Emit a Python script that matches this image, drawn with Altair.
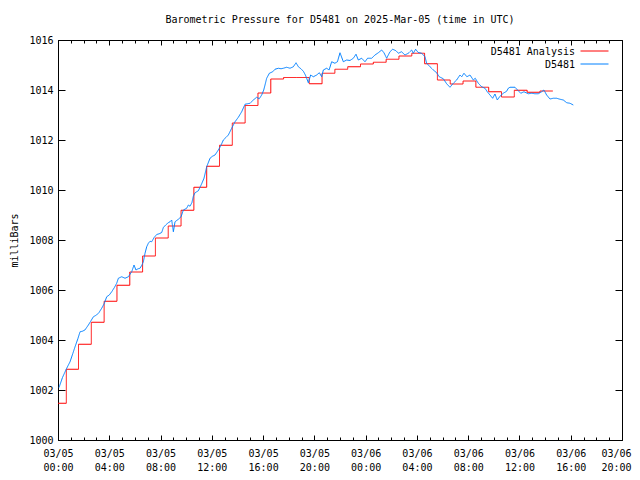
import altair as alt
import pandas as pd

# ---- data (hours since 2025-03-05 00:00 UTC) ----
red_hours = [0, 0.65, 1.6, 2.6, 3.6, 4.6, 5.6, 6.6, 7.6, 8.6, 9.6, 10.6, 11.6, 12.6, 13.6,
             14.6, 15.6, 16.6, 17.6, 18.6, 19.6, 20.6, 21.6, 22.6, 23.6, 24.6, 25.6, 26.6,
             27.6, 28.6, 29.6, 30.6, 31.6, 32.6, 33.6, 34.6, 35.6, 36.6, 37.6, 38.6]
red_values = [1001.47, 1002.83, 1003.83, 1004.71, 1005.55, 1006.19, 1006.72, 1007.36, 1008.08,
              1008.56, 1009.19, 1010.11, 1010.95, 1011.79, 1012.68, 1013.38, 1013.88, 1014.44,
              1014.50, 1014.50, 1014.25, 1014.67, 1014.83, 1014.93, 1015.04, 1015.11, 1015.23,
              1015.36, 1015.47, 1015.05, 1014.40, 1014.24, 1014.36, 1014.11, 1013.93, 1013.72,
              1013.99, 1013.91, 1013.96, 1013.96]

blue_hours = [0.08, 0.35, 0.68, 0.94, 1.15, 1.33, 1.55, 1.72, 1.9, 2.1, 2.37, 2.55, 2.76, 3.01,
              3.2, 3.41, 3.6, 3.8, 4.0, 4.19, 4.4, 4.58, 4.71, 4.97, 5.23, 5.49, 5.75, 5.93,
              6.08, 6.25, 6.4, 6.55, 6.66, 6.79, 6.92, 7.05, 7.18, 7.31, 7.5, 7.7, 7.9, 8.09,
              8.22, 8.4, 8.6, 8.74, 8.87, 9.0, 9.13, 9.39, 9.6, 9.78, 10.04, 10.17, 10.3, 10.45,
              10.56, 10.69, 10.82, 10.95, 11.21, 11.39, 11.52, 11.6, 11.86, 12.05, 12.25, 12.51,
              12.69, 12.9, 13.1, 13.29, 13.55, 13.81, 14.07, 14.33, 14.59, 14.8, 14.98, 15.24,
              15.5, 15.7, 15.89, 16.05, 16.15, 16.28, 16.49, 16.75, 16.93, 17.19, 17.4, 17.58,
              17.84, 18.1, 18.36, 18.57, 18.75, 18.95, 19.14, 19.3, 19.4, 19.53, 19.71, 19.92,
              20.18, 20.39, 20.57, 20.7, 20.96, 21.15, 21.35, 21.6, 21.8, 22.0, 22.26, 22.52,
              22.78, 23.04, 23.25, 23.43, 23.69, 23.95, 24.15, 24.47, 24.73, 24.99, 25.25, 25.43,
              25.64, 25.9, 26.11, 26.37, 26.55, 26.8, 27.07, 27.33, 27.59, 27.72, 27.9, 28.1,
              28.37, 28.63, 28.76, 29.02, 29.28, 29.54, 29.74, 30.06, 30.32, 30.58, 30.84, 31.1,
              31.36, 31.5, 31.67, 31.9, 32.14, 32.4, 32.55, 32.79, 33.05, 33.31, 33.49, 33.7,
              33.91, 34.09, 34.27, 34.48, 34.74, 35.0, 35.13, 35.26, 35.65, 35.91, 36.1, 36.35,
              36.69, 36.95, 37.2, 37.47, 37.73, 37.91, 38.12, 38.38, 38.64, 38.9, 39.16, 39.42,
              39.69, 39.94, 40.2]
blue_values = [1002.10, 1002.50, 1002.87, 1003.13, 1003.45, 1003.73, 1004.05, 1004.33, 1004.35,
               1004.40, 1004.60, 1004.75, 1004.93, 1005.00, 1005.10, 1005.27, 1005.45, 1005.73,
               1005.80, 1005.93, 1006.10, 1006.27, 1006.47, 1006.53, 1006.47, 1006.53, 1006.73,
               1007.00, 1006.80, 1006.85, 1006.87, 1007.00, 1007.13, 1007.47, 1007.73, 1007.87,
               1007.95, 1007.93, 1008.10, 1008.22, 1008.25, 1008.30, 1008.50, 1008.60, 1008.69,
               1008.73, 1008.80, 1008.33, 1008.73, 1008.83, 1008.93, 1009.20, 1009.27, 1009.40,
               1009.35, 1009.50, 1009.75, 1009.89, 1009.93, 1009.97, 1010.25, 1010.47, 1010.75,
               1010.93, 1011.27, 1011.35, 1011.40, 1011.60, 1011.76, 1012.00, 1012.10, 1012.20,
               1012.47, 1012.73, 1012.91, 1013.13, 1013.43, 1013.45, 1013.47, 1013.60, 1013.71,
               1013.65, 1013.80, 1014.00, 1014.20, 1014.47, 1014.67, 1014.73, 1014.83, 1014.87,
               1014.85, 1014.87, 1014.91, 1014.87, 1014.93, 1015.09, 1014.93, 1014.85, 1014.75,
               1014.60, 1014.47, 1014.29, 1014.60, 1014.53, 1014.60, 1014.69, 1014.53, 1014.80,
               1014.87, 1014.80, 1015.13, 1015.07, 1015.13, 1015.49, 1015.13, 1015.20, 1015.18,
               1015.27, 1015.43, 1015.20, 1015.27, 1015.13, 1015.27, 1015.27, 1015.40, 1015.49,
               1015.60, 1015.49, 1015.27, 1015.53, 1015.63, 1015.57, 1015.47, 1015.53, 1015.40,
               1015.47, 1015.60, 1015.47, 1015.63, 1015.50, 1015.47, 1015.33, 1015.07, 1014.93,
               1014.80, 1014.69, 1014.53, 1014.45, 1014.25, 1014.11, 1014.27, 1014.40, 1014.60,
               1014.53, 1014.67, 1014.53, 1014.60, 1014.40, 1014.47, 1014.27, 1014.13, 1014.07,
               1013.93, 1013.80, 1013.67, 1013.84, 1013.60, 1013.75, 1013.87, 1013.95, 1014.07,
               1014.11, 1014.11, 1013.97, 1013.87, 1013.93, 1013.85, 1013.87, 1013.85, 1013.85,
               1013.93, 1014.00, 1013.80, 1013.64, 1013.67, 1013.67, 1013.63, 1013.60, 1013.49,
               1013.47, 1013.40]

series_names = ["D5481 Analysis", "D5481"]
series_colors = ["#ff0000", "#0080ff"]

x_tick_hours = [0, 4, 8, 12, 16, 20, 24, 28, 32, 36, 40, 44]
x_tick_dates = ["03/05", "03/05", "03/05", "03/05", "03/05", "03/05",
                "03/06", "03/06", "03/06", "03/06", "03/06", "03/06"]
x_tick_times = ["00:00", "04:00", "08:00", "12:00", "16:00", "20:00",
                "00:00", "04:00", "08:00", "12:00", "16:00", "20:00"]
x_minor_hours = list(range(0, 45))
y_ticks = [1000, 1002, 1004, 1006, 1008, 1010, 1012, 1014, 1016]

title_text = "Barometric Pressure for D5481 on 2025-Mar-05 (time in UTC)"
y_title = "milliBars"

# ---- chart ----
W, H = 564, 400
FONT = "DejaVu Sans Mono"
X_MAJOR, X_MINOR, Y_MAJOR = 5, 3, 7

red_df = pd.DataFrame({"hour": red_hours, "mb": red_values, "series": series_names[0]})
blue_df = pd.DataFrame({"hour": blue_hours, "mb": blue_values, "series": series_names[1]})

xscale = alt.Scale(domain=[0, 44], nice=False, zero=False)
yscale = alt.Scale(domain=[1000, 1016], nice=False, zero=False)

date_arr = "[" + ",".join(f"'{d}'" for d in x_tick_dates) + "]"
time_arr = "[" + ",".join(f"'{t}'" for t in x_tick_times) + "]"
label_expr = f"[{date_arr}[round(datum.value/4)], {time_arr}[round(datum.value/4)]]"

LEG_Y = 5
# coloured line samples (labels hidden)
sym_legend = alt.Legend(
    title=None, orient="none", legendX=522, legendY=LEG_Y,
    symbolType="stroke", symbolSize=784, symbolStrokeWidth=1,
    labelExpr="''", labelFont=FONT, labelFontSize=10,
    padding=0, rowPadding=1, clipHeight=12,
)
# right-aligned labels placed to the left of the samples
lab_legend = alt.Legend(
    title=None, orient="none", legendX=487, legendY=LEG_Y + 1,
    symbolType="stroke", symbolSize=784, symbolOpacity=0,
    labelAlign="right", labelOffset=0, labelFont=FONT, labelFontSize=10,
    labelColor="black", padding=0, rowPadding=1, clipHeight=12,
)
color = alt.Color("series:N", scale=alt.Scale(domain=series_names, range=series_colors),
                  legend=sym_legend)
dash = alt.StrokeDash("series:N", sort=series_names,
                      scale=alt.Scale(range=[[1, 0], [1, 0]]), legend=lab_legend)


def tick_axis(orient, values, size, offset):
    return alt.Axis(orient=orient, values=values, labels=False, domain=False, ticks=True,
                    tickSize=size, tickColor="black", tickWidth=1, grid=False, title=None,
                    offset=offset)


x_label_axis = alt.Axis(orient="bottom", values=x_tick_hours, labelExpr=label_expr,
                        labelFont=FONT, labelFontSize=10, labelColor="black",
                        labelLineHeight=14, labelPadding=8, ticks=False, tickSize=0,
                        domain=False, grid=False, title=None, labelFlush=False,
                        labelOverlap=False,
                        labelOffset={"condition": {"test": "datum.value >= 44", "value": -6},
                                     "value": 0})
y_label_axis = alt.Axis(orient="left", values=y_ticks, format="d", labelFont=FONT,
                        labelFontSize=10, labelColor="black", labelPadding=5, ticks=False,
                        tickSize=0, domain=False, grid=False, title=y_title,
                        titleFont=FONT, titleFontSize=10, titleFontWeight="normal",
                        titleColor="black", titleX=-44, titleY=H / 2, titleAngle=270,
                        titleAlign="center", titleBaseline="middle")

red = alt.Chart(red_df).mark_line(interpolate="step-after", strokeWidth=1).encode(
    x=alt.X("hour:Q", scale=xscale, axis=x_label_axis),
    y=alt.Y("mb:Q", scale=yscale, axis=y_label_axis),
    color=color,
    strokeDash=dash,
)
blue = alt.Chart(blue_df).mark_line(strokeWidth=1).encode(
    x=alt.X("hour:Q", scale=xscale, axis=tick_axis("top", x_tick_hours, X_MAJOR, -H)),
    y=alt.Y("mb:Q", scale=yscale, axis=tick_axis("right", y_ticks, Y_MAJOR, -W)),
    color=color,
    strokeDash=dash,
)
ghost1 = alt.Chart(blue_df).mark_line(opacity=0).encode(
    x=alt.X("hour:Q", scale=xscale, axis=tick_axis("top", x_minor_hours, X_MINOR, -H)),
    y=alt.Y("mb:Q", scale=yscale, axis=tick_axis("left", y_ticks, Y_MAJOR, -W)),
)
ghost2 = alt.Chart(blue_df).mark_line(opacity=0).encode(
    x=alt.X("hour:Q", scale=xscale, axis=tick_axis("bottom", x_tick_hours, X_MAJOR, -H)),
    y=alt.Y("mb:Q", scale=yscale, axis=None),
)
ghost3 = alt.Chart(blue_df).mark_line(opacity=0).encode(
    x=alt.X("hour:Q", scale=xscale, axis=tick_axis("bottom", x_minor_hours, X_MINOR, -H)),
    y=alt.Y("mb:Q", scale=yscale, axis=None),
)

chart = (
    alt.layer(red, blue, ghost1, ghost2, ghost3)
    .resolve_axis(x="independent", y="independent")
    .properties(
        width=W, height=H,
        autosize=alt.AutoSizeParams(type="none"),
        padding={"left": 50, "top": 32, "right": 10, "bottom": 32},
        background="white",
        title=alt.TitleParams(title_text, font=FONT, fontSize=10, fontWeight="normal",
                              color="black", anchor="middle", offset=10),
    )
    .configure_view(stroke="black", strokeWidth=1)
)

chart.save("out.html", embed_options={"renderer": "svg", "actions": False})
